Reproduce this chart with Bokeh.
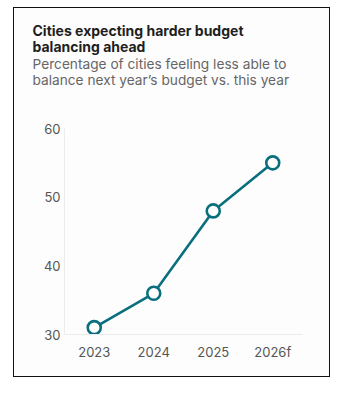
from bokeh.plotting import figure
from bokeh.models import Title, FactorRange, Range1d, FixedTicker
from bokeh.embed import file_html
from bokeh.resources import INLINE

years = ["2023", "2024", "2025", "2026f"]
share = [31, 36, 48, 55]
y_ticks = [30, 40, 50, 60]

title_lines = ["Cities expecting harder budget", "balancing ahead"]
subtitle_lines = ["Percentage of cities feeling less able to",
                  "balance next year\u2019s budget vs. this year"]

TEAL = "#0a6f7d"
FONT = "Inter"

p = figure(x_range=FactorRange(*years, range_padding=0), y_range=Range1d(30, 60),
           frame_width=238, frame_height=206,
           min_border_left=50, min_border_right=27, min_border_top=0, min_border_bottom=42,
           output_backend="svg", toolbar_location=None)
p.margin = (8, 0, 0, 14)
p.styles = {"outline": "1.5px solid #111"}
p.background_fill_color = "#fdfdfd"
p.border_fill_color = "#fdfdfd"
p.outline_line_color = None
p.xgrid.grid_line_color = None
p.ygrid.grid_line_color = None

p.yaxis.ticker = FixedTicker(ticks=y_ticks)
for ax in (p.xaxis[0], p.yaxis[0]):
    ax.axis_line_color = "#ececec"
    ax.major_tick_line_color = None
    ax.minor_tick_line_color = None
    ax.major_tick_out = 0
    ax.major_tick_in = 0
    ax.minor_tick_out = 0
    ax.major_label_text_font = FONT
    ax.major_label_text_font_size = "13px"
    ax.major_label_text_color = "#555555"
p.yaxis.major_label_standoff = 4
p.xaxis.major_label_standoff = 9

p.line(years, share, line_color=TEAL, line_width=2.6)
p.scatter(years, share, size=13, fill_color="white", line_color=TEAL, line_width=2.6)


def header(text, size, style, color, standoff):
    return Title(text=text, align="left", offset=-32, standoff=standoff,
                 text_font=FONT, text_font_size=size, text_font_style=style,
                 text_color=color)


# stacked header lines (added bottom-up; later ones sit higher)
p.add_layout(header(" ", "1px", "normal", "#fdfdfd", 40), "above")            # gap above plot
p.add_layout(header(subtitle_lines[1], "13.7px", "normal", "#666666", -5.1), "above")
p.add_layout(header(subtitle_lines[0], "13.7px", "normal", "#666666", 1.35), "above")
p.add_layout(header(title_lines[1], "14px", "bold", "#1f1f1f", -2.65), "above")
p.add_layout(header(title_lines[0], "14px", "bold", "#1f1f1f", -2.65), "above")
p.add_layout(header(" ", "1px", "normal", "#fdfdfd", 9.6), "above")           # top padding

open("out.html", "w").write(file_html(p, INLINE))
